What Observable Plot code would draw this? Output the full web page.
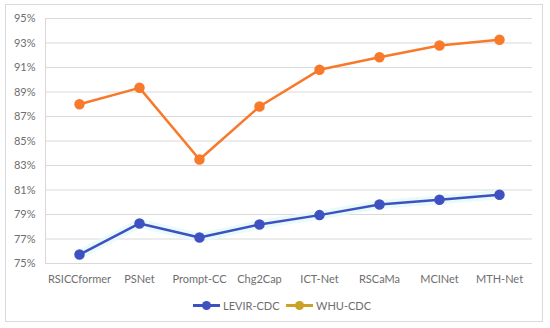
<!DOCTYPE html>
<html>
<head>
<meta charset="utf-8">
<script src="https://cdn.jsdelivr.net/npm/d3@7"></script>
<script src="https://cdn.jsdelivr.net/npm/@observablehq/plot@0.6"></script>
<style>
  html, body { margin: 0; padding: 0; background: #fff; }
  #wrap { position: relative; width: 550px; height: 328px; font-family: Lato, "Open Sans", sans-serif; }
  #border { position: absolute; left: 5px; top: 4px; width: 538px; height: 318px; border: 1px solid #d9d9d9; box-sizing: border-box; }
  #chart { position: absolute; left: 0; top: 0; }
  #legend { position: absolute; top: 297px; left: 0; width: 550px; height: 16px; font-size: 11px; color: #6e6e6e; }
  .item { position: absolute; top: 0; display: flex; align-items: center; height: 16px; }
  .sw { position: relative; width: 27px; height: 16px; margin-right: 3px; }
  .sw .ln { position: absolute; left: 0; right: 0; top: 7px; height: 2.5px; }
  .sw .dt { position: absolute; left: 9px; top: 3.5px; width: 9px; height: 9px; border-radius: 50%; }
</style>
</head>
<body>
<div id="wrap">
  <div id="border"></div>
  <div id="chart"></div>
  <div id="legend"></div>
</div>
<script>
const categories = ["RSICCformer", "PSNet", "Prompt-CC", "Chg2Cap", "ICT-Net", "RSCaMa", "MCINet", "MTH-Net"];
const levirValues = [75.73, 78.27, 77.12, 78.18, 78.95, 79.82, 80.20, 80.61];
const whuValues = [88.00, 89.34, 83.49, 87.82, 90.81, 91.84, 92.80, 93.26];
const yTicks = [75, 77, 79, 81, 83, 85, 87, 89, 91, 93, 95];
const seriesNames = ["LEVIR-CDC", "WHU-CDC"];
const blue = "#3f51c1";
const orange = "#f8792a";

const levir = categories.map((c, i) => ({model: c, value: levirValues[i]}));
const whu = categories.map((c, i) => ({model: c, value: whuValues[i]}));

const plot = Plot.plot({
  width: 550,
  height: 290,
  marginLeft: 45,
  marginRight: 18,
  marginTop: 18,
  marginBottom: 27,
  style: {fontFamily: "Lato, 'Open Sans', sans-serif", fontSize: "11px", color: "#6e6e6e", background: "transparent"},
  x: {type: "point", domain: categories, padding: 0.5, label: null, tickSize: 0, tickPadding: 12},
  y: {domain: [75, 95], ticks: yTicks, tickFormat: d => d + "%", label: null, tickSize: 0, tickPadding: 10},
  marks: [
    Plot.ruleY(yTicks, {stroke: "#d9d9d9", strokeWidth: 1}),
    Plot.frame({anchor: "left", stroke: "#d9d9d9"}),
    Plot.line(levir, {x: "model", y: "value", stroke: "#e4f9f9", strokeWidth: 9, strokeOpacity: 0.85}),
    Plot.line(levir, {x: "model", y: "value", stroke: blue, strokeWidth: 2.5}),
    Plot.dot(levir, {x: "model", y: "value", r: 4.5, fill: blue, stroke: blue}),
    Plot.line(whu, {x: "model", y: "value", stroke: orange, strokeWidth: 2.5}),
    Plot.dot(whu, {x: "model", y: "value", r: 4.5, fill: orange, stroke: orange})
  ]
});
document.getElementById("chart").appendChild(plot);

const legend = document.getElementById("legend");
const legendColors = [blue, "#c9a227"];
const legendLefts = [193, 286];
seriesNames.forEach((name, i) => {
  const item = document.createElement("div");
  item.className = "item";
  item.style.left = legendLefts[i] + "px";
  item.innerHTML = `<div class="sw"><div class="ln" style="background:${legendColors[i]}"></div><div class="dt" style="background:${legendColors[i]}"></div></div><span>${name}</span>`;
  legend.appendChild(item);
});
</script>
</body>
</html>
